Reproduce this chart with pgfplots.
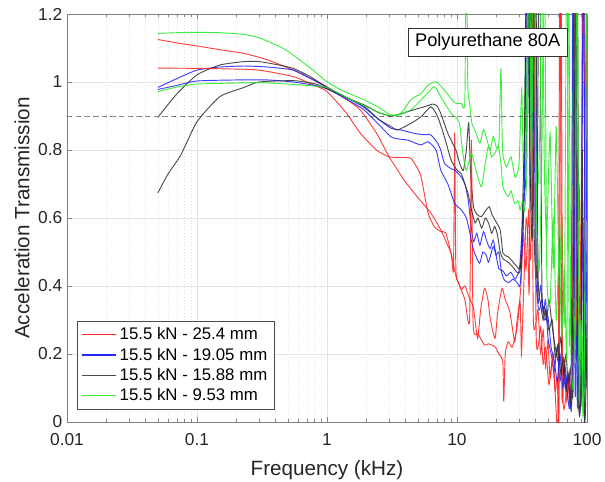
\documentclass[border=0pt]{standalone}
\usepackage{pgfplots}
\pgfplotsset{compat=1.18}
\usepackage{fontspec}
\setmainfont{Liberation Sans}
\definecolor{mred}{RGB}{255,30,30}
\definecolor{mblue}{RGB}{30,30,255}
\definecolor{mblack}{RGB}{45,45,45}
\definecolor{mgreen}{RGB}{30,235,30}
\definecolor{axgray}{RGB}{130,130,130}
\begin{document}
\begin{tikzpicture}
\path[use as bounding box] (-50.25pt,-44.25pt) rectangle (403.5pt,316.5pt);
\begin{axis}[
  scale only axis, width=390pt, height=306pt,
  xmode=log, xmin=0.01, xmax=100, ymin=0, ymax=1.2,
  xtick={0.01,0.1,1,10,100}, xticklabels={0.01,0.1,1,10,100},
  minor xtick={0.02,0.03,0.04,0.05,0.06,0.07,0.08,0.09,0.2,0.3,0.4,0.5,0.6,0.7,0.8,0.9,2,3,4,5,6,7,8,9,20,30,40,50,60,70,80,90},
  ytick={0,0.2,0.4,0.6,0.8,1,1.2},
  /pgf/number format/assume math mode=true,
  xmajorgrids, xminorgrids, ymajorgrids,
  major grid style={gray!22, line width=0.4pt},
  minor grid style={gray!22, dotted, line width=0.4pt},
  axis line style={axgray, line width=0.5pt},
  tick style={axgray, line width=0.5pt},
  major tick length=4pt, minor tick length=2.2pt,
  ticklabel style={font=\fontsize{13}{15}\selectfont, text=black!85},
  xticklabel style={yshift=-5pt},
  xlabel={Frequency (kHz)},
  ylabel={Acceleration Transmission},
  label style={font=\fontsize{15.5}{18}\selectfont, text=black!85},
  xlabel style={at={(axis description cs:0.5,-0.1299)}, anchor=base},
  ylabel style={at={(axis description cs:-0.0865,0.5)}, anchor=center},
  legend style={at={(axis description cs:0.02,0.03)}, anchor=south west,
    font=\fontsize{12.6}{15}\selectfont, draw=black!70, line width=0.5pt,
    cells={anchor=west}, row sep=0.6pt, inner sep=3pt},
  legend image code/.code={\draw[#1] (0cm,0cm) -- (0.9cm,0cm);},
]
\addlegendimage{color=red, line width=0.9pt}
\addlegendentry{15.5 kN - 25.4 mm}
\addlegendimage{color=blue, line width=0.9pt}
\addlegendentry{15.5 kN - 19.05 mm}
\addlegendimage{color=mblack, line width=0.9pt}
\addlegendentry{15.5 kN - 15.88 mm}
\addlegendimage{color=mgreen, line width=0.9pt}
\addlegendentry{15.5 kN - 9.53 mm}
\pgfplotsset{every axis plot/.append style={line width=0.7pt, opacity=0.85, smooth, tension=0.35, forget plot}}
\addplot[mred] coordinates {(0.05,1.125) (0.07,1.115) (0.1,1.106) (0.15,1.095) (0.23,1.084) (0.35,1.065) (0.55,1.035) (0.75,1.01) (1.0,0.986) (1.4,0.95) (1.8,0.918) (2.4,0.85) (3.0,0.78) (3.5,0.741) (3.9,0.712) (5.0,0.66) (6.3,0.614) (7.5,0.565) (9.0,0.496) (9.4,0.45) (9.6,0.85) (9.8,0.45) (10.3,0.41) (10.8,0.39) (11.5,0.40) (12.3,0.37) (13.4,0.334) (14.4,0.246) (15.2,0.33) (16.3,0.393) (17.3,0.36) (18.0,0.305) (19.6,0.246) (20.6,0.324) (22.2,0.393) (23.5,0.36) (25.5,0.324) (27.8,0.236) (29.0,0.30) (30.6,0.354) (31.3,0.197) (32,0.30) (33,0.45) (34,0.60) (35,0.55) (36,0.40) (37.5,1.5) (38.5,0.35) (40,0.28) (42,0.33) (44,0.20) (46,0.27) (48,0.16) (50,0.24) (52,0.13) (55,0.20) (57,0.08) (60,0.04) (62,1.5) (64,0.10) (67,0.18) (70,0.06) (73,0.15) (76,0.05) (80,0.35) (84,0.8) (86,0.25) (90,0.6) (94,1.5) (97,0.4) (100,1.5)};
\addplot[mblue] coordinates {(0.05,0.984) (0.07,1.01) (0.1,1.035) (0.15,1.044) (0.23,1.047) (0.35,1.044) (0.55,1.035) (0.75,1.01) (1.0,0.984) (1.4,0.955) (1.9,0.927) (2.5,0.89) (3.1,0.864) (3.7,0.859) (4.7,0.849) (5.5,0.845) (6.3,0.844) (7.1,0.82) (7.5,0.80) (8.0,0.761) (9.0,0.745) (9.6,0.741) (10.8,0.72) (11.5,0.70) (12.2,0.653) (12.8,0.58) (13.4,0.53) (14.2,0.555) (15.0,0.52) (16.0,0.56) (17.0,0.53) (18.0,0.51) (19.0,0.535) (20.0,0.49) (21.0,0.45) (22.5,0.445) (24,0.43) (26,0.44) (28,0.42) (30,0.445) (31,0.50) (32.5,0.65) (34,0.75) (35.5,1.5) (37,0.9) (38.5,1.5) (40,0.50) (42,0.35) (44,0.40) (46,0.32) (48,0.36) (50,0.25) (53,0.20) (56,0.15) (59,0.22) (62,0.12) (65,0.18) (68,0.10) (71,0.14) (74,0.06) (76,0.04) (78,0.30) (81,1.5) (84,0.08) (87,0.2) (90,0.05) (93,0.6) (96,0.1) (100,0.5)};
\addplot[mblack] coordinates {(0.05,0.896) (0.07,0.965) (0.1,1.021) (0.15,1.05) (0.23,1.06) (0.3,1.06) (0.4,1.052) (0.55,1.04) (0.75,1.015) (1.0,0.984) (1.4,0.955) (1.95,0.932) (2.5,0.91) (3.1,0.90) (3.6,0.905) (4.2,0.913) (5.0,0.922) (5.6,0.927) (6.5,0.935) (7.0,0.93) (7.5,0.908) (8.5,0.849) (9.8,0.80) (10.5,0.76) (11.2,0.74) (11.8,0.80) (12.3,0.88) (12.7,0.74) (13.4,0.633) (14.3,0.61) (15.4,0.604) (16.5,0.62) (17.7,0.633) (18.6,0.61) (19.6,0.594) (21.5,0.565) (22.6,0.496) (24.8,0.486) (26.9,0.471) (28.5,0.46) (30.6,0.452) (32,0.535) (33,0.75) (34.5,1.5) (36,0.9) (37.5,1.5) (39,0.6) (41,0.45) (43,1.5) (45,0.40) (47,0.34) (49,0.30) (51,0.36) (54,0.28) (57,0.22) (60,0.18) (63,0.25) (66,0.14) (69,0.20) (72,0.10) (75,0.16) (78,0.08) (81,0.6) (84,1.5) (87,0.12) (90,0.07) (93,0.15) (96,0.01) (98,0.3) (100,0.1)};
\addplot[mgreen] coordinates {(0.05,1.143) (0.07,1.145) (0.1,1.146) (0.15,1.145) (0.23,1.14) (0.3,1.13) (0.38,1.114) (0.47,1.097) (0.55,1.079) (0.75,1.04) (1.0,1.001) (1.3,0.975) (1.95,0.947) (2.5,0.925) (3.1,0.903) (3.7,0.908) (4.4,0.947) (5.3,0.967) (6.0,0.991) (6.9,1.001) (8.0,0.976) (9.6,0.939) (10.8,0.937) (11.5,0.95) (11.8,1.5) (12.1,1.0) (12.5,0.94) (13,0.88) (14,0.85) (15,0.82) (16,0.86) (17,0.83) (18,0.80) (19,0.84) (20,0.81) (21,0.82) (21.8,1.04) (22.4,0.80) (24,0.75) (26,0.78) (28,0.72) (30,0.76) (31.5,0.98) (32.5,0.72) (34,0.80) (35.5,1.5) (37,0.85) (38.5,1.5) (40,0.9) (42,0.7) (43.5,0.9) (45,1.5) (47,0.75) (49,0.55) (52,0.85) (55,0.45) (58,0.87) (61,0.40) (64,0.6) (67,0.30) (70,1.5) (73,0.25) (76,0.5) (79,1.5) (82,0.2) (85,0.5) (88,0.06) (91,0.35) (94,0.03) (97,0.6) (100,0.7)};
\addplot[mred] coordinates {(0.05,1.041) (0.1,1.04) (0.2,1.038) (0.3,1.035) (0.55,1.016) (0.8,0.99) (1.0,0.972) (1.4,0.91) (1.8,0.85) (2.4,0.80) (3.0,0.78) (3.7,0.778) (4.4,0.776) (4.9,0.75) (5.3,0.72) (6.0,0.614) (6.7,0.574) (7.5,0.56) (8.2,0.556) (9.0,0.496) (9.8,0.43) (10.5,0.40) (11.5,0.36) (12.5,0.30) (12.9,0.83) (13.3,0.29) (14.5,0.26) (16.3,0.226) (17.5,0.23) (19.6,0.221) (21.0,0.20) (22.5,0.177) (22.9,0.06) (23.5,0.20) (24.8,0.236) (26.5,0.22) (28,0.25) (29.4,0.295) (31,0.40) (32.5,0.55) (34,0.45) (35.5,0.62) (37,0.5) (39,1.5) (40.5,0.30) (42,0.22) (44,0.28) (46,0.17) (48,0.22) (51,0.11) (54,0.18) (57,0.09) (59,0.13) (61,0.04) (63,1.5) (65,0.12) (68,0.06) (71,0.14) (74,0.05) (77,0.25) (80,1.5) (83,0.2) (87,0.7) (90,0.3) (93,1.5) (96,0.8) (100,1.5)};
\addplot[mblue] coordinates {(0.05,0.978) (0.07,0.99) (0.1,1.003) (0.2,1.006) (0.35,1.006) (0.55,1.0) (0.8,0.99) (1.0,0.98) (1.4,0.95) (1.9,0.92) (2.5,0.875) (3.1,0.839) (3.6,0.832) (4.2,0.829) (4.8,0.82) (5.3,0.815) (6.0,0.824) (6.9,0.80) (7.5,0.741) (8.5,0.70) (9.6,0.643) (10.8,0.624) (11.8,0.60) (12.5,0.56) (13.4,0.506) (14.9,0.467) (15.8,0.50) (16.8,0.49) (17.5,0.47) (19,0.516) (20,0.49) (21,0.50) (22,0.44) (23.1,0.418) (25,0.41) (27,0.42) (29,0.41) (30.5,0.40) (31.5,0.48) (33,0.7) (35,1.5) (36.5,0.7) (38,0.9) (40,1.5) (41.5,0.42) (43,0.33) (45,0.36) (47,0.30) (50,0.31) (53,0.22) (56,0.18) (59,0.12) (62,0.2) (65,0.10) (68,0.16) (71,0.08) (73.5,0.04) (76,0.2) (78,1.5) (81,0.10) (84,0.3) (87,0.04) (90,0.15) (94,1.5) (97,0.2) (100,1.0)};
\addplot[mblack] coordinates {(0.05,0.674) (0.06,0.73) (0.075,0.785) (0.1,0.883) (0.15,0.957) (0.23,0.984) (0.3,1.0) (0.55,1.004) (0.8,0.995) (1.0,0.98) (1.4,0.955) (1.95,0.927) (2.5,0.89) (3.1,0.869) (3.5,0.859) (4.4,0.878) (5.3,0.898) (6.3,0.927) (7.1,0.898) (8.0,0.839) (9.0,0.771) (10,0.741) (10.8,0.73) (11.5,0.70) (12.2,0.67) (13.0,0.62) (13.8,0.585) (14.5,0.60) (15.5,0.57) (16.5,0.60) (17.5,0.585) (18.5,0.555) (19.5,0.575) (20.5,0.55) (21.5,0.50) (22.6,0.48) (24.8,0.47) (27,0.455) (29,0.44) (30.6,0.445) (31.5,0.55) (33,0.85) (35,1.5) (36.5,0.75) (38,0.55) (40,1.5) (42,0.45) (44,0.35) (46,0.30) (48,0.33) (51,0.27) (54,0.30) (57,0.19) (60,0.23) (63,0.14) (66,0.19) (69,0.09) (72,0.14) (75,0.06) (79,0.5) (82,1.5) (85,0.15) (89,0.05) (92,0.8) (95,0.04) (97,0.02) (100,0.2)};
\addplot[mgreen] coordinates {(0.05,0.972) (0.07,0.985) (0.1,0.994) (0.2,0.997) (0.3,0.998) (0.55,0.993) (0.8,0.988) (1.0,0.984) (1.4,0.955) (1.95,0.93) (2.5,0.91) (3.3,0.90) (4.4,0.918) (5.6,0.957) (6.7,0.986) (7.5,0.957) (9.0,0.908) (10.4,0.883) (11.0,0.80) (11.8,0.74) (12.9,0.79) (14,0.74) (15.4,0.692) (16.5,0.76) (17.4,0.81) (18.5,0.78) (19.6,0.79) (20.8,0.81) (21.8,0.76) (22.6,0.69) (24.8,0.663) (26,0.68) (27.8,0.643) (29.5,0.65) (30.6,0.624) (32,0.65) (33,0.62) (34.5,0.75) (36,1.5) (37.5,0.7) (39,1.5) (41,0.6) (43,0.45) (45,0.8) (47,1.5) (49,0.45) (52,0.35) (55,0.6) (58,0.30) (61,0.5) (64,0.25) (67,0.45) (70,0.20) (72,1.5) (75,0.25) (78,0.10) (81,0.4) (84,1.5) (87,0.08) (90,0.3) (93,0.02) (96,0.25) (100,1.5)};
\addplot[black!65, dashed, dash pattern=on 4pt off 2.5pt, line width=0.6pt, opacity=1] coordinates {(0.01,0.9) (100,0.9)};
\node[draw=black!80, fill=white, line width=0.5pt, inner xsep=5pt, inner ysep=4pt, font=\fontsize{13.7}{16}\selectfont] at (axis description cs:0.809,0.931) {Polyurethane 80A};
\end{axis}
\end{tikzpicture}
\end{document}
